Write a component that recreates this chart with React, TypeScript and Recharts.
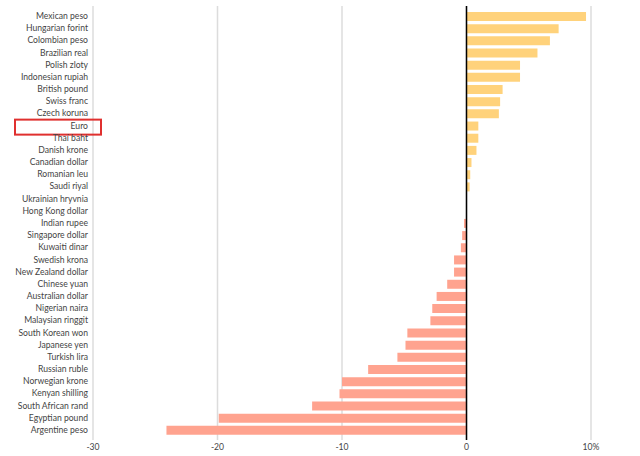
import React from 'react';
import {
    BarChart,
    Bar,
    Cell,
    XAxis,
    YAxis,
    CartesianGrid,
    ReferenceLine
} from 'recharts';

// Currencies, top to bottom
const currencies = [
    'Mexican peso', 'Hungarian forint', 'Colombian peso', 'Brazilian real', 'Polish zloty',
    'Indonesian rupiah', 'British pound', 'Swiss franc', 'Czech koruna', 'Euro',
    'Thai baht', 'Danish krone', 'Canadian dollar', 'Romanian leu', 'Saudi riyal',
    'Ukrainian hryvnia', 'Hong Kong dollar', 'Indian rupee', 'Singapore dollar', 'Kuwaiti dinar',
    'Swedish krona', 'New Zealand dollar', 'Chinese yuan', 'Australian dollar', 'Nigerian naira',
    'Malaysian ringgit', 'South Korean won', 'Japanese yen', 'Turkish lira', 'Russian ruble',
    'Norwegian krone', 'Kenyan shilling', 'South African rand', 'Egyptian pound', 'Argentine peso'
];

// % change
const changes = [
    9.6, 7.4, 6.7, 5.7, 4.3,
    4.3, 2.9, 2.7, 2.6, 0.95,
    0.95, 0.8, 0.4, 0.3, 0.25,
    0.02, 0.0, -0.2, -0.35, -0.45,
    -1.0, -1.0, -1.55, -2.4, -2.75,
    -2.9, -4.75, -4.9, -5.55, -7.9,
    -10.0, -10.2, -12.4, -19.9, -24.1
];

const xTicks = [-30, -20, -10, 0, 10];
const highlighted = 'Euro';

const data = currencies.map((name, i) => ({ name, value: changes[i] }));

const font = 'Lato, "Open Sans", sans-serif';

const CurrencyTick = (props: any) => {
    const { x, y, payload } = props;
    const isHighlighted = payload.value === highlighted;
    return (
        <g>
            {isHighlighted && (
                <rect
                    x={x - 73}
                    y={y - 6}
                    width={86}
                    height={15}
                    fill="none"
                    stroke="#e0302f"
                    strokeWidth={2}
                />
            )}
            <text
                x={x}
                y={y}
                dy="0.35em"
                textAnchor="end"
                fontSize={8.6}
                fontFamily={font}
                fill="#444"
            >
                {payload.value}
            </text>
        </g>
    );
};

export default function App() {
    return (
        <div style={{ width: 640, height: 456, background: '#fff' }}>
            <style>{'body{margin:0}'}</style>
            <BarChart
                width={640}
                height={456}
                data={data}
                layout="vertical"
                margin={{ top: 6, right: 49, bottom: 0, left: 0 }}
                barSize={9}
            >
                <CartesianGrid horizontal={false} stroke="#dcdcdc" strokeWidth={1.5} />
                <XAxis
                    type="number"
                    domain={[-30, 10]}
                    ticks={xTicks}
                    axisLine={false}
                    tickLine={false}
                    tickSize={0}
                    tickMargin={4}
                    height={16}
                    interval={0}
                    tickFormatter={(v: number) => (v === 10 ? '10%' : String(v))}
                    tick={{ fontSize: 8.6, fontFamily: font, fill: '#444' }}
                />
                <YAxis
                    type="category"
                    dataKey="name"
                    width={93}
                    axisLine={false}
                    tickLine={false}
                    tickSize={0}
                    tickMargin={5}
                    interval={0}
                    padding={{ top: 4, bottom: 4 }}
                    tick={<CurrencyTick />}
                />
                <Bar dataKey="value" isAnimationActive={false}>
                    {data.map((d, i) => (
                        <Cell key={`cell-${i}`} fill={d.value >= 0 ? '#ffd27b' : '#ffa38f'} />
                    ))}
                </Bar>
                <ReferenceLine x={0} stroke="#000" strokeWidth={1.5} />
            </BarChart>
        </div>
    );
}
